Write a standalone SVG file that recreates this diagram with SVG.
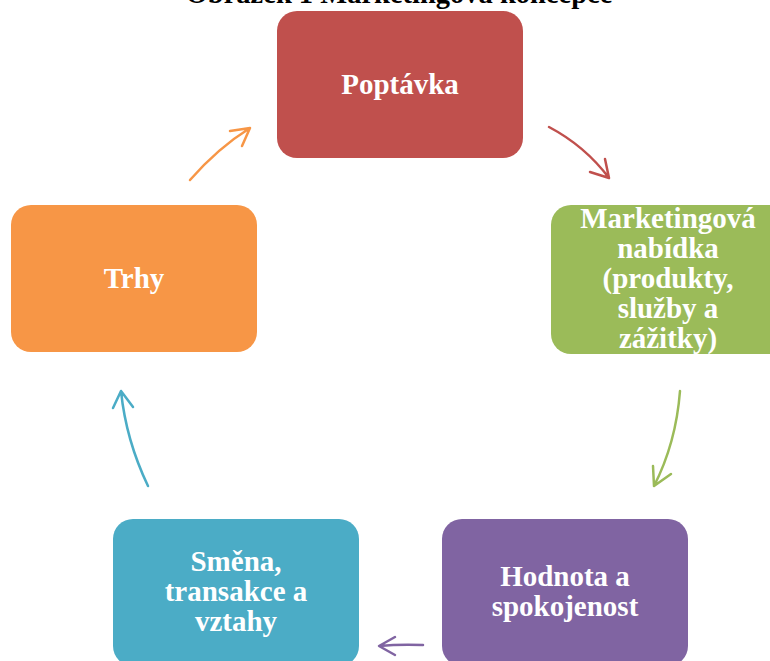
<svg xmlns="http://www.w3.org/2000/svg" width="770" height="661" viewBox="0 0 770 661">
<style>
.t{font-family:"Liberation Serif","Times New Roman",serif;font-weight:bold;font-size:29px;fill:#fff;text-anchor:middle}
.title{font-family:"Liberation Serif","Times New Roman",serif;font-weight:bold;font-size:28.5px;fill:#000;text-anchor:middle}
.c{fill:none;stroke-width:2.5;stroke-linecap:round;stroke-linejoin:round}
</style>
<rect width="770" height="661" fill="#fff"/>
<text class="title" x="399" y="2.5">Obrázek 1 Marketingová koncepce</text>
<g id="poptavka">
<rect x="277" y="11" width="246" height="147" rx="20" fill="#C0504D"/>
<text class="t" x="400" y="94">Poptávka</text>
</g>
<g id="nabidka">
<rect x="551" y="205" width="246" height="149" rx="20" fill="#9BBB59"/>
<text class="t" x="668"><tspan x="668" y="228">Marketingová</tspan><tspan x="668" y="258">nabídka</tspan><tspan x="668" y="288">(produkty,</tspan><tspan x="668" y="318">služby a</tspan><tspan x="668" y="348">zážitky)</tspan></text>
</g>
<g id="hodnota">
<rect x="442" y="519" width="246" height="147" rx="20" fill="#8064A2"/>
<text class="t" x="565"><tspan x="565" y="586">Hodnota a</tspan><tspan x="565" y="616">spokojenost</tspan></text>
</g>
<g id="smena">
<rect x="113" y="519" width="246" height="147" rx="20" fill="#4BACC6"/>
<text class="t" x="236"><tspan x="236" y="571">Směna,</tspan><tspan x="236" y="601">transakce a</tspan><tspan x="236" y="631">vztahy</tspan></text>
</g>
<g id="trhy">
<rect x="11" y="205" width="246" height="147" rx="20" fill="#F79646"/>
<text class="t" x="134" y="288">Trhy</text>
</g>
<g id="connectors">
<path class="c" stroke="#C0504D" d="M549,127 Q585,146 609,178 M590,172 L609,178 L605,159"/>
<path class="c" stroke="#9BBB59" d="M680,391 Q676,443 654,486 M653,466 L654,486 L671,474"/>
<path class="c" stroke="#8064A2" d="M423,645 Q400,644 379,646 M395,637 L379,646 L395,655"/>
<path class="c" stroke="#4BACC6" d="M148,486 Q126,440 121,391 M113,408 L121,391 L133,407"/>
<path class="c" stroke="#F79646" d="M190,180 Q218,148 250,128 M230,131 L250,128 L242,146"/>
</g>
</svg>
